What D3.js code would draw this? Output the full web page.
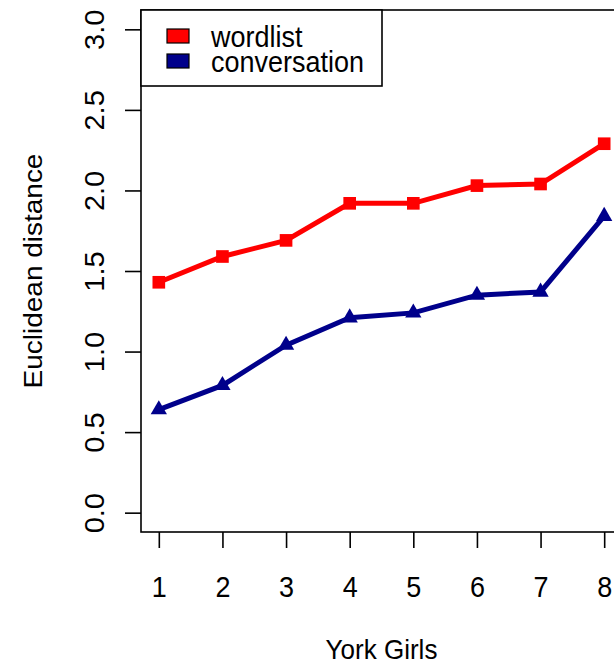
<!DOCTYPE html>
<html>
<head>
<meta charset="utf-8">
<script src="https://cdn.jsdelivr.net/npm/d3@7"></script>
<style>
  html, body { margin: 0; padding: 0; background: #fff; }
  svg { display: block; }
  text { font-family: "Liberation Sans", Arial, sans-serif; fill: #000; }
</style>
</head>
<body>
<svg id="chart" width="614" height="665"></svg>
<script>
// Speakers (York Girls) and their distances
const speakers = [1, 2, 3, 4, 5, 6, 7, 8];
const wordlist = [1.43, 1.59, 1.69, 1.92, 1.92, 2.03, 2.04, 2.29];
const conversation = [0.64, 0.79, 1.04, 1.21, 1.24, 1.35, 1.37, 1.84];
const yTicks = [0, 0.5, 1.0, 1.5, 2.0, 2.5, 3.0];
const seriesNames = ["wordlist", "conversation"];
const seriesColors = ["#ff0000", "#00008b"];

const svg = d3.select("#chart");
const box = { left: 141, right: 622, top: 10, bottom: 532 };
const fontSize = 28;
const tickFont = 29;
const sx = 0.93; // horizontal text compression

// R-style 4% padding around the data ranges
const x = d3.scaleLinear().domain([0.72, 8.28]).range([box.left, box.right]);
const y = d3.scaleLinear().domain([-0.12, 3.12]).range([box.bottom, box.top]);

// Axes
const xAxis = d3.axisBottom(x).tickValues(speakers).tickSize(16).tickFormat(d3.format("d"));
const yAxis = d3.axisLeft(y).tickValues(yTicks).tickSize(16).tickFormat(d3.format(".1f"));

const gx = svg.append("g").attr("transform", `translate(0,${box.bottom})`).call(xAxis);
const gy = svg.append("g").attr("transform", `translate(${box.left},0)`).call(yAxis);
[gx, gy].forEach(g => {
  g.select(".domain").remove();
  g.selectAll(".tick line").attr("stroke", "#000").attr("stroke-width", 1.6);
});
gx.selectAll(".tick text")
  .attr("y", null).attr("dy", null)
  .attr("text-anchor", "middle")
  .attr("font-size", tickFont)
  .attr("transform", `translate(0,65) scale(${sx},1)`);
gy.selectAll(".tick text")
  .attr("x", null).attr("dy", null)
  .attr("text-anchor", "middle")
  .attr("font-size", tickFont)
  .attr("transform", `translate(-37,0) scale(${sx},1) rotate(-90)`);

// Axis titles
svg.append("text")
  .attr("text-anchor", "middle")
  .attr("font-size", fontSize)
  .attr("transform", `translate(${(box.left + box.right) / 2},659) scale(${sx},1)`)
  .text("York Girls");
svg.append("text")
  .attr("text-anchor", "middle")
  .attr("font-size", fontSize)
  .attr("transform", `translate(42,${(box.top + box.bottom) / 2}) scale(${sx},1) rotate(-90)`)
  .text("Euclidean distance");

// Series lines and markers
const line = d3.line().x((d, i) => x(speakers[i])).y(d => y(d));
const plot = svg.append("g");

plot.append("path").datum(wordlist)
  .attr("d", line).attr("fill", "none")
  .attr("stroke", seriesColors[0]).attr("stroke-width", 5);
plot.append("path").datum(conversation)
  .attr("d", line).attr("fill", "none")
  .attr("stroke", seriesColors[1]).attr("stroke-width", 5);

const sq = d3.symbol().type(d3.symbolSquare).size(160);
const tri = d3.symbol().type(d3.symbolTriangle).size(115);

plot.selectAll(".sq").data(wordlist).join("path")
  .attr("d", sq)
  .attr("transform", (d, i) => `translate(${x(speakers[i])},${y(d)})`)
  .attr("fill", seriesColors[0]);
plot.selectAll(".tri").data(conversation).join("path")
  .attr("d", tri)
  .attr("transform", (d, i) => `translate(${x(speakers[i])},${y(d)})`)
  .attr("fill", seriesColors[1]);

// Plot frame
svg.append("rect")
  .attr("x", box.left).attr("y", box.top)
  .attr("width", box.right - box.left).attr("height", box.bottom - box.top)
  .attr("fill", "none").attr("stroke", "#000").attr("stroke-width", 1.6);

// Legend (top-left, flush with the frame)
const legend = svg.append("g");
legend.append("rect")
  .attr("x", box.left).attr("y", box.top)
  .attr("width", 241).attr("height", 76)
  .attr("fill", "#fff").attr("stroke", "#000").attr("stroke-width", 1.6);
seriesNames.forEach((name, i) => {
  const ry = 29 + i * 25;
  legend.append("rect")
    .attr("x", 167).attr("y", ry)
    .attr("width", 22).attr("height", 14)
    .attr("fill", seriesColors[i]).attr("stroke", "#000").attr("stroke-width", 1.2);
  legend.append("text")
    .attr("font-size", tickFont)
    .attr("transform", `translate(211,${ry + 18}) scale(${sx},1)`)
    .text(name);
});
</script>
</body>
</html>
